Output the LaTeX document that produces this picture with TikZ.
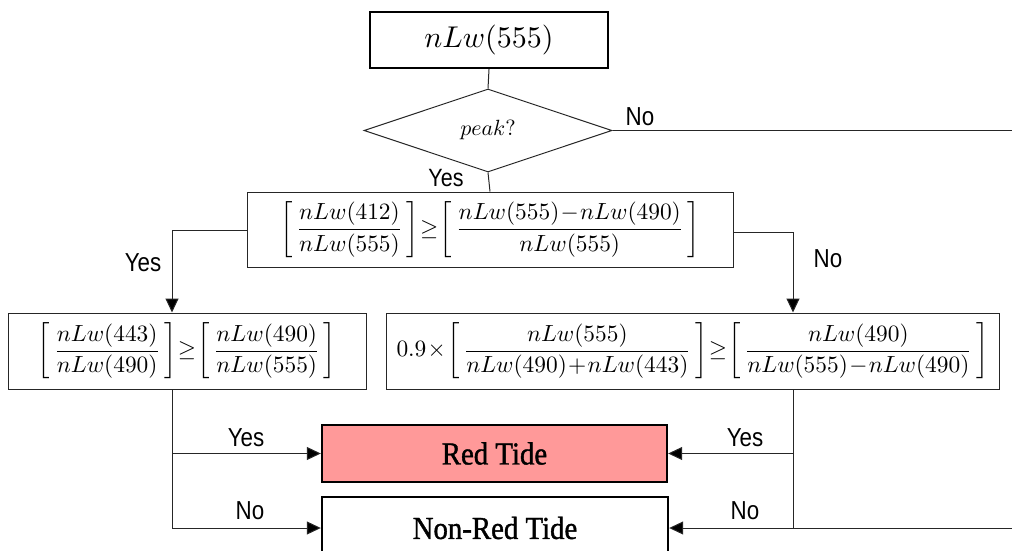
\documentclass[tikz,border=0pt]{standalone}
\usepackage{fontspec}
\usepackage{graphicx}
\usetikzlibrary{shapes.geometric,arrows.meta}
\newfontfamily\labfont[FakeStretch=0.86]{Liberation Sans}
\newfontfamily\tidefont[FakeStretch=0.9,FakeBold=1.2]{Liberation Serif}
\definecolor{tidepink}{RGB}{255,153,153}
\newcommand{\tightmath}{\thickmuskip=1mu\medmuskip=1mu}
\begin{document}
\begin{tikzpicture}[x=0.5pt,y=-0.5pt,
  box/.style={draw=black!85, line width=0.5pt, inner sep=0pt},
  thickbox/.style={draw=black, line width=1.2pt, inner sep=0pt},
  conn/.style={draw=black!85, line width=0.5pt},
  arr/.style={conn, -{Triangle[length=7pt,width=6.5pt,fill=black]}},
  lab/.style={font=\labfont\fontsize{13}{15}\selectfont, inner sep=0pt, text height=9.3pt, text depth=0pt},
  tide/.style={font=\tidefont\fontsize{16}{18}\selectfont}]
\path[use as bounding box, clip] (0,0) rectangle (1012,551);
\node[thickbox, minimum width=119pt, minimum height=28pt] (top) at (489,40) {\scalebox{1.5}{$nLw(555)$}};
\node[diamond, draw=black!85, line width=0.5pt, inner sep=0pt, minimum width=124pt, minimum height=41.5pt] (dia) at (488,130.5) {\scalebox{1.1}{$peak?$}};
\node[box, minimum width=243pt, minimum height=37.5pt] (c1) at (490,229.5) {\scalebox{1.17}{$\tightmath\displaystyle\left[\,\frac{nLw(412)}{nLw(555)}\,\right]\geq\left[\,\frac{nLw(555)-nLw(490)}{nLw(555)}\,\right]$}};
\node[box, minimum width=179pt, minimum height=38pt] (c2) at (187,351) {\scalebox{1.17}{$\tightmath\displaystyle\left[\,\frac{nLw(443)}{nLw(490)}\,\right]\geq\left[\,\frac{nLw(490)}{nLw(555)}\,\right]$}};
\node[box, minimum width=306.5pt, minimum height=38pt] (c3) at (692.5,351) {\scalebox{1.17}{$\tightmath\displaystyle 0.9\times\left[\,\frac{nLw(555)}{nLw(490)+nLw(443)}\,\right]\geq\left[\,\frac{nLw(490)}{nLw(555)-nLw(490)}\,\right]$}};
\node[thickbox, fill=tidepink, minimum width=172.5pt, minimum height=28.5pt, tide] (red) at (494.5,453.5) {Red Tide};
\node[thickbox, minimum width=173pt, minimum height=31pt, tide] (non) at (495,528) {Non-Red Tide};
\coordinate (r1) at (1012,130.5);
\coordinate (r2) at (1012,528);
\coordinate (lx) at (172,230);
\coordinate (rx) at (793,232);
\coordinate (lb) at (172,528);
\coordinate (rb) at (793,528);
% connectors
\draw[conn] (top.south) -- (dia.north);
\draw[conn] (dia.east) -- (r1);
\draw[conn] (dia.south) -- (c1.north);
\draw[arr] (c1.west |- lx) -- (lx) -- (lx |- c2.north);
\draw[arr] (c1.east |- rx) -- (rx) -- (rx |- c3.north);
\draw[conn] (lx |- c2.south) -- (lb);
\draw[conn] (rx |- c3.south) -- (rb);
\draw[arr] (lb |- red.west) -- (red.west);
\draw[arr] (lb) -- (non.west);
\draw[arr] (rb |- red.east) -- (red.east);
\draw[arr] (r2) -- (non.east);
% labels
\node[lab] (lno1) at (640,116) {No};
\node[lab, font=\labfont\fontsize{12.5}{14}\selectfont] (lyes1) at (446,177) {Yes};
\node[lab] (lyes2) at (143,262) {Yes};
\node[lab] (lno2) at (828,258) {No};
\node[lab] (lyes3) at (246,437) {Yes};
\node[lab] (lno3) at (250,510) {No};
\node[lab] (lyes4) at (745,437) {Yes};
\node[lab] (lno4) at (745,510) {No};
\end{tikzpicture}
\end{document}
